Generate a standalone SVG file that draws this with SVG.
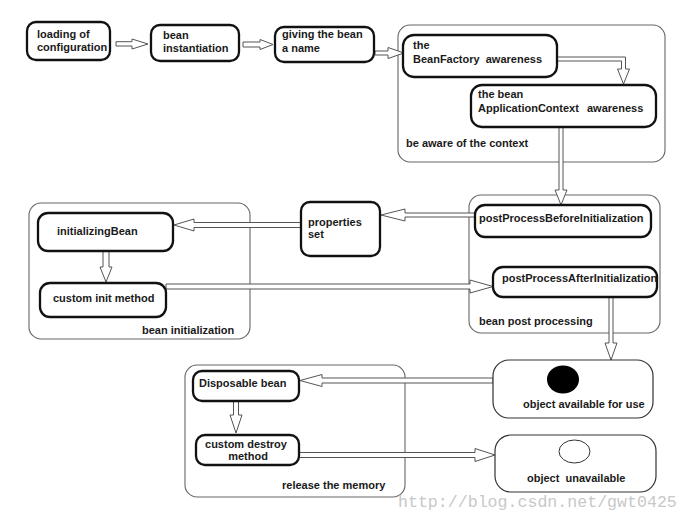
<svg xmlns="http://www.w3.org/2000/svg" width="689" height="523" viewBox="0 0 689 523">
<style>
.bg{fill:#ffffff}
.cont{fill:none;stroke:#666;stroke-width:1.1}
.box{fill:#fff;stroke:#111;stroke-width:2.3}
.obj{fill:#fff;stroke:#333;stroke-width:1.2}
.t{font-family:"Liberation Sans",Arial,sans-serif;font-size:11px;font-weight:bold;fill:#1a1a1a}
.arr{fill:#fff;stroke:#555;stroke-width:1;stroke-linejoin:miter}
.wm{font-family:"Liberation Mono","Courier New",monospace;font-size:16.6px;fill:#c8c8c8}
</style>
<rect class="bg" x="0" y="0" width="689" height="523"/>

<g id="containers">
<rect id="ctx-context" class="cont" x="398" y="25" width="267" height="137" rx="12"/>
<rect id="ctx-postproc" class="cont" x="469" y="195" width="191" height="138" rx="12"/>
<rect id="ctx-init" class="cont" x="29" y="203" width="221" height="136" rx="12"/>
<rect id="ctx-release" class="cont" x="185" y="365" width="220" height="132" rx="12"/>
<text class="t" x="406" y="147">be aware of the context</text>
<text class="t" x="479" y="325">bean post processing</text>
<text class="t" x="142" y="334">bean initialization</text>
<text class="t" x="282" y="489">release the memory</text>
</g>

<g id="connectors">
<polygon class="arr" points="116,41.7 132,41.7 132,39 148,44 132,49 132,46 116,46"/>
<polygon class="arr" points="243,42 260,42 260,39.5 273,44.5 260,49.5 260,47 243,47"/>
<polygon class="arr" points="375,51 388,51 388,47.5 404,53 388,58.5 388,55 375,55"/>
<polygon class="arr" points="557,57 625.5,57 625.5,69 629.5,69 623.5,84 617.5,69 621.5,69 621.5,61 557,61"/>
<polygon class="arr" points="559,127 563,127 563,190 567,190 561,205 555,190 559,190"/>
<polygon class="arr" points="475,213 405,213 405,209 381,215 405,221 405,217 475,217"/>
<polygon class="arr" points="301,222.5 194,222.5 194,219 174,225 194,231 194,227.5 301,227.5"/>
<polygon class="arr" points="103,251 109,251 109,267 112,267 106,282 100,267 103,267"/>
<polygon class="arr" points="166,284 470,284 470,280 493,286.5 470,293 470,289 166,289"/>
<polygon class="arr" points="609,297 613,297 613,343 617,343 611,360 605,343 609,343"/>
<polygon class="arr" points="493,378 322,378 322,374.5 300,380.5 322,386.5 322,383 493,383"/>
<polygon class="arr" points="233.5,401 238.5,401 238.5,415 242,415 236,433 230,415 233.5,415"/>
<polygon class="arr" points="299,452.5 475,452.5 475,448.5 495,455 475,461.5 475,457.5 299,457.5"/>
</g>

<g id="n-loading">
<rect class="box" x="27" y="22" width="83" height="38" rx="9"/>
<text class="t" x="37" y="38">loading of</text>
<text class="t" x="37" y="51">configuration</text>
</g>
<g id="n-instantiation">
<rect class="box" x="151" y="25" width="88" height="36" rx="9"/>
<text class="t" x="163" y="39">bean</text>
<text class="t" x="163" y="52">instantiation</text>
</g>
<g id="n-name">
<rect class="box" x="275" y="27" width="99" height="35" rx="9"/>
<text class="t" x="282" y="38">giving the bean</text>
<text class="t" x="282" y="52">a name</text>
</g>
<g id="n-beanfactory">
<rect class="box" x="403" y="35" width="154" height="42" rx="11"/>
<text class="t" x="413" y="49">the</text>
<text class="t" x="413" y="62.5" xml:space="preserve">BeanFactory  awareness</text>
</g>
<g id="n-appctx">
<rect class="box" x="471" y="85" width="185" height="42" rx="11"/>
<text class="t" x="478" y="98">the bean</text>
<text class="t" x="478" y="111.5">ApplicationContext</text>
<text class="t" x="587" y="111.5">awareness</text>
</g>
<g id="n-properties">
<rect class="box" x="301" y="202" width="79" height="54" rx="9"/>
<text class="t" x="308" y="225.5">properties</text>
<text class="t" x="308" y="238">set</text>
</g>
<g id="n-before">
<rect class="box" x="475" y="205" width="176" height="32" rx="10"/>
<text class="t" x="479" y="222">postProcessBeforeInitialization</text>
</g>
<g id="n-after">
<rect class="box" x="493" y="267" width="164" height="30" rx="10"/>
<text class="t" x="502" y="282">postProcessAfterInitialization</text>
</g>
<g id="n-initializing">
<rect class="box" x="38" y="213" width="135" height="38" rx="10"/>
<text class="t" x="57" y="235">initializingBean</text>
</g>
<g id="n-custominit">
<rect class="box" x="40" y="283" width="126" height="34" rx="10"/>
<text class="t" x="53" y="302">custom init method</text>
</g>
<g id="n-disposable">
<rect class="box" x="193" y="371" width="106" height="30" rx="9"/>
<text class="t" x="199" y="387">Disposable bean</text>
</g>
<g id="n-customdestroy">
<rect class="box" x="196" y="435" width="103" height="30" rx="9"/>
<text class="t" x="246" y="448" text-anchor="middle">custom destroy</text>
<text class="t" x="248" y="460" text-anchor="middle">method</text>
</g>
<g id="n-available">
<rect class="obj" x="493" y="360" width="160" height="58" rx="16"/>
<ellipse cx="563" cy="379.5" rx="16" ry="14" fill="#000"/>
<text class="t" x="523" y="408">object available for use</text>
</g>
<g id="n-unavailable">
<rect class="obj" x="495" y="435" width="161" height="57" rx="16"/>
<ellipse cx="574.5" cy="451.5" rx="15.5" ry="11.5" fill="#fff" stroke="#333" stroke-width="1"/>
<text class="t" x="527" y="482" xml:space="preserve">object  unavailable</text>
</g>

<text class="wm" x="398" y="507">http://blog.csdn.net/gwt0425</text>
</svg>
